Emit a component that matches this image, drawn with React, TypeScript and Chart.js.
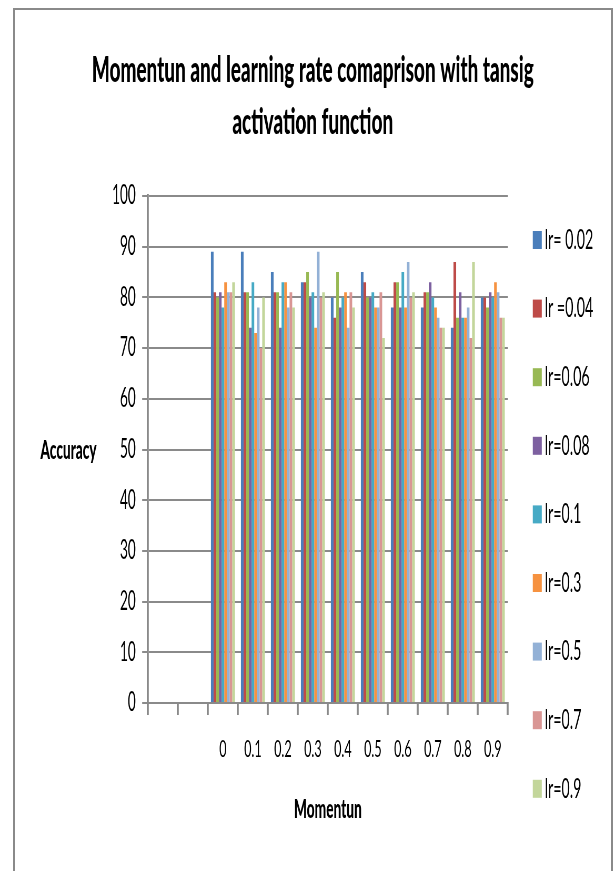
import React, { useEffect, useRef } from "react";
import { Chart, registerables } from "chart.js";

Chart.register(...registerables);

const categories = ["", "", "0", "0.1", "0.2", "0.3", "0.4", "0.5", "0.6", "0.7", "0.8", "0.9"];
const seriesLabels = ["lr= 0.02", "lr =0.04", "lr=0.06", "lr=0.08", "lr=0.1", "lr=0.3", "lr=0.5", "lr=0.7", "lr=0.9"];
const lr002 = [null, null, 89, 89, 85, 83, 80, 85, 78, 78, 74, 80];
const lr004 = [null, null, 81, 81, 81, 83, 76, 83, 83, 81, 87, 80];
const lr006 = [null, null, 80, 81, 81, 85, 85, 80, 83, 81, 76, 78];
const lr008 = [null, null, 81, 74, 74, 80, 78, 80, 78, 83, 81, 81];
const lr01 = [null, null, 78, 83, 83, 81, 80, 81, 85, 80, 76, 80];
const lr03 = [null, null, 83, 73, 83, 74, 81, 78, 78, 78, 76, 83];
const lr05 = [null, null, 81, 78, 78, 89, 74, 78, 87, 76, 78, 81];
const lr07 = [null, null, 81, 70, 81, 80, 81, 81, 80, 74, 72, 76];
const lr09 = [null, null, 83, 80, 78, 81, 78, 72, 81, 74, 87, 76];
const seriesValues = [lr002, lr004, lr006, lr008, lr01, lr03, lr05, lr07, lr09];
const seriesColors = ["#4a7ebb", "#be4b48", "#98b954", "#7d60a0", "#46aac5", "#f69240", "#93b1d6", "#d99694", "#c3d69b"];
const yTicks = { min: 0, max: 100, step: 10 };
const titleLines = ["Momentun and learning rate comaprison with tansig", "activation function"];
const xTitle = "Momentun";
const yTitle = "Accuracy";

// horizontal compression factor (canvas drawn wider, displayed at 615px)
const K = 1.9;
const W = Math.round(615 * K);
const H = 871;
const FONT = "Lato, 'Open Sans', sans-serif";
const GRID = "#8a8a8a";
const PAD_LEFT = 20;

const overlay = {
  id: "overlay",
  afterDraw(chart: any) {
    const ctx = chart.ctx;
    ctx.save();
    ctx.fillStyle = "#000";
    ctx.font = `900 26px ${FONT}`;
    ctx.textAlign = "center";
    ctx.textBaseline = "alphabetic";
    ctx.fillText(yTitle, 68.5 * K, 459);
    chart.data.datasets.forEach((ds: any, i: number) => {
      const y = 240 + i * 68.6;
      ctx.fillStyle = ds.backgroundColor;
      ctx.fillRect(533 * K, y - 9, 9 * K, 18);
      ctx.fillStyle = "#000";
      ctx.font = `27px ${FONT}`;
      ctx.textAlign = "left";
      ctx.textBaseline = "middle";
      ctx.fillText(ds.label, 545 * K, y);
    });
    ctx.restore();
  },
};

export default function App() {
  const ref = useRef<HTMLCanvasElement>(null);
  useEffect(() => {
    if (!ref.current) return;
    const chart = new Chart(ref.current, {
      type: "bar",
      data: {
        labels: categories,
        datasets: seriesValues.map((v, i) => ({
          label: seriesLabels[i],
          data: v,
          backgroundColor: seriesColors[i],
          borderWidth: 0,
          barPercentage: 1,
          categoryPercentage: 0.8,
        })),
      },
      options: {
        responsive: false,
        animation: false,
        devicePixelRatio: 1,
        layout: { padding: { left: PAD_LEFT, right: 0, top: 0, bottom: 0 } },
        plugins: {
          legend: { display: false },
          tooltip: { enabled: false },
          title: {
            display: true,
            text: titleLines,
            color: "#000",
            font: { family: FONT, size: 36, weight: "900", lineHeight: "52px" },
            padding: { top: 44, bottom: 48 },
          },
        },
        scales: {
          x: {
            grid: { offset: true, drawOnChartArea: false, drawTicks: true, tickLength: 12, lineWidth: 2 * K, color: GRID },
            border: { display: true, color: GRID, width: 2 },
            ticks: { font: { family: FONT, size: 24 }, color: "#000", padding: 20, autoSkip: false, maxRotation: 0 },
            title: { display: true, text: xTitle, color: "#000", font: { family: FONT, size: 26, weight: "900" }, padding: { top: 0, bottom: 46 } },
            afterFit: (s: any) => { s.height = H - 703; },
          },
          y: {
            min: yTicks.min,
            max: yTicks.max,
            grid: { color: GRID, lineWidth: 2, drawTicks: true, tickLength: 11 },
            border: { display: true, color: GRID, width: 2 * K },
            ticks: { stepSize: yTicks.step, font: { family: FONT, size: 26 }, color: "#000", padding: 12 },
            afterFit: (s: any) => { s.width = 148 * K - PAD_LEFT; },
          },
          legendSpace: {
            type: "linear",
            axis: "y",
            position: "right",
            display: true,
            grid: { display: false, drawTicks: false },
            border: { display: false },
            ticks: { display: false },
            afterFit: (s: any) => { s.width = W - 508 * K; },
          },
        },
      },
      plugins: [overlay],
    });
    return () => chart.destroy();
  }, []);
  return (
    <div style={{ position: "absolute", left: 0, top: 0, width: 615, height: H, background: "#fff", overflow: "hidden" }}>
      <canvas ref={ref} width={W} height={H} style={{ position: "absolute", left: 0, top: 0, width: "615px", height: H + "px" }} />
      <div style={{ position: "absolute", left: 13, top: 8, width: 596, height: 900, borderTop: "2px solid #8a8a8a", borderLeft: "2px solid #8a8a8a", borderRight: "2px solid #8a8a8a" }} />
    </div>
  );
}
